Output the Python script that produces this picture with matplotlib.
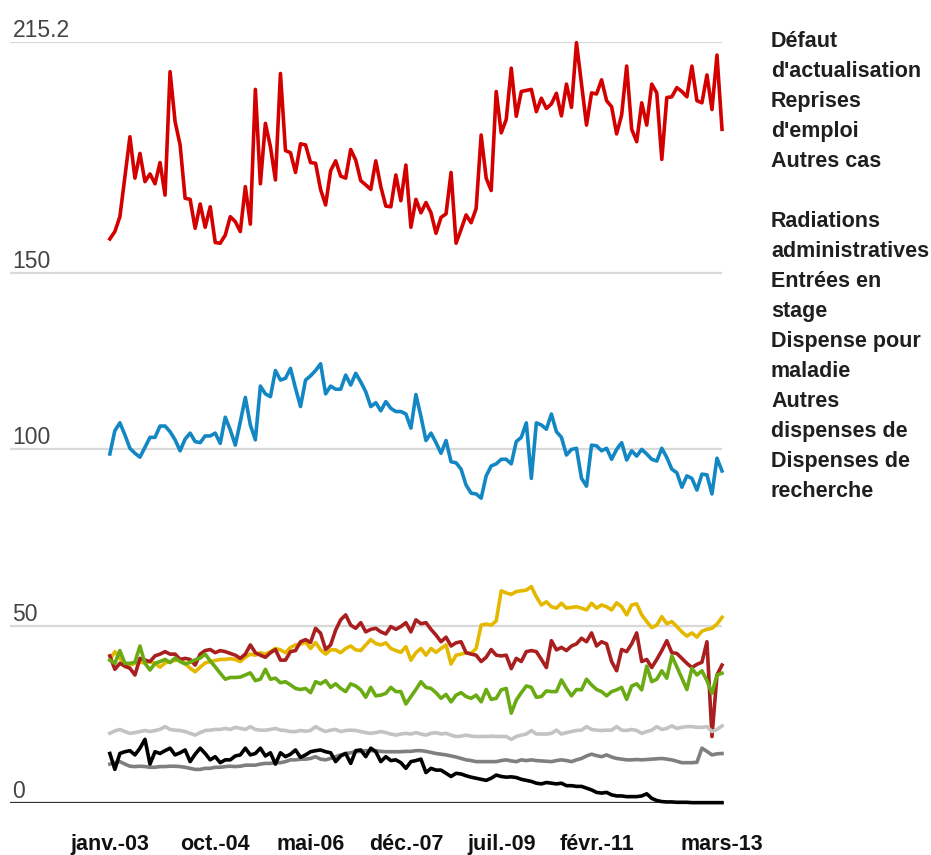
import matplotlib
matplotlib.use("Agg")
import matplotlib.pyplot as plt
from matplotlib import font_manager
from matplotlib.transforms import offset_copy

# monthly series, janv. 2003 -> mars 2013 (thousands)
defaut_actualisation = [
    159.5, 161.6, 165.8, 177.1, 188.4, 176.7, 183.7, 175.7, 177.9, 175.1, 181.1, 171.9,
    206.8, 192.7, 186.1, 171.0, 170.7, 162.5, 169.4, 162.8, 168.6, 158.5, 158.3, 160.6,
    165.8, 164.4, 161.6, 174.3, 163.7, 201.8, 175.1, 192.2, 185.6, 176.2, 206.3, 184.5,
    183.9, 178.3, 186.4, 186.1, 181.1, 180.9, 173.5, 169.1, 178.8, 181.6, 177.3, 176.7,
    184.8, 181.8, 176.0, 174.8, 173.5, 181.6, 174.3, 168.8, 168.6, 177.6, 170.3, 180.4,
    162.8, 170.7, 166.9, 169.8, 166.9, 161.1, 165.6, 166.6, 178.3, 158.3, 162.2, 166.3,
    164.1, 168.1, 188.9, 176.7, 173.2, 201.2, 189.5, 193.3, 207.8, 194.2, 201.2, 201.5,
    201.8, 195.5, 199.3, 196.4, 197.7, 200.7, 194.3, 203.3, 196.7, 215.0, 203.3, 191.7,
    200.8, 200.5, 204.5, 198.6, 196.9, 189.2, 194.6, 208.4, 190.5, 187.0, 198.0, 191.7,
    203.3, 200.8, 182.0, 199.5, 199.7, 202.3, 201.2, 199.7, 208.4, 198.6, 198.0, 205.9,
    196.1, 211.5, 190.5]
reprises_emploi = [
    98.7, 105.3, 107.5, 104.1, 100.3, 98.9, 97.8, 100.6, 103.4, 103.4, 106.6, 106.6,
    105.0, 102.7, 99.6, 102.9, 104.6, 102.2, 101.9, 103.8, 103.8, 104.6, 101.7, 109.1,
    105.5, 101.2, 107.8, 114.7, 106.9, 102.7, 117.9, 115.7, 114.9, 122.3, 119.6, 120.1,
    122.9, 117.3, 112.1, 119.6, 120.8, 122.3, 124.2, 115.7, 117.9, 117.0, 117.0, 121.0,
    118.2, 121.5, 119.1, 116.3, 112.1, 113.2, 110.9, 113.5, 111.6, 110.7, 110.7, 110.0,
    106.0, 115.5, 109.3, 102.5, 104.6, 101.9, 98.9, 102.5, 96.5, 96.2, 94.4, 89.9,
    87.6, 87.4, 86.2, 92.5, 95.3, 95.9, 97.2, 97.2, 95.9, 102.2, 103.4, 107.5,
    91.8, 107.5, 106.9, 105.7, 110.0, 105.0, 103.4, 98.4, 100.0, 100.3, 91.8, 89.6,
    101.2, 101.0, 99.6, 100.3, 97.2, 100.0, 101.9, 97.0, 99.6, 98.1, 100.0, 98.7,
    97.2, 96.7, 100.3, 97.7, 94.4, 93.4, 89.3, 92.5, 91.8, 88.5, 93.0, 92.8,
    87.4, 97.5, 93.9]
autres_cas = [
    40.5, 42.8, 41.0, 38.5, 39.0, 39.5, 39.8, 39.6, 40.0, 39.5, 38.4, 39.6,
    40.0, 40.3, 40.6, 39.5, 38.1, 37.1, 38.4, 39.6, 40.0, 40.3, 40.6, 40.6,
    40.8, 40.6, 40.0, 41.2, 42.1, 41.8, 42.5, 42.1, 42.8, 43.7, 43.3, 42.5,
    44.0, 44.7, 44.9, 45.5, 43.7, 45.4, 43.3, 42.1, 43.3, 43.3, 42.5, 43.7,
    44.4, 43.3, 43.1, 44.7, 46.2, 45.1, 44.7, 45.3, 43.7, 43.1, 42.6, 44.2,
    40.4, 42.5, 43.7, 41.8, 43.7, 42.6, 43.7, 44.7, 39.3, 41.8, 42.1, 42.5,
    42.3, 43.7, 50.3, 50.6, 50.3, 51.5, 60.0, 59.4, 59.0, 59.8, 60.0, 60.2,
    61.2, 58.3, 56.0, 56.9, 55.5, 55.1, 56.5, 55.1, 55.3, 55.5, 55.1, 54.6,
    56.5, 55.1, 56.0, 55.5, 54.6, 56.6, 55.5, 53.2, 56.0, 56.3, 53.2, 51.3,
    49.6, 50.3, 52.7, 50.7, 51.3, 49.9, 48.4, 47.2, 48.1, 46.9, 48.6, 49.1,
    49.4, 50.6, 52.5]
radiations_admin = [
    41.6, 37.8, 39.5, 38.7, 38.1, 36.2, 40.9, 40.4, 40.0, 41.6, 42.1, 42.8,
    42.1, 42.1, 40.6, 40.9, 40.6, 39.0, 42.1, 43.1, 43.4, 42.5, 43.1, 42.8,
    42.3, 41.8, 40.9, 42.1, 44.7, 42.5, 41.8, 41.2, 42.5, 43.4, 40.4, 40.4,
    42.8, 43.1, 45.6, 46.2, 45.4, 49.4, 48.0, 43.4, 44.7, 48.9, 51.8, 53.2,
    50.3, 49.4, 51.0, 48.4, 49.1, 49.4, 48.4, 47.8, 49.9, 49.1, 49.9, 51.0,
    48.4, 51.8, 50.7, 51.0, 49.1, 47.5, 45.6, 46.9, 44.4, 45.3, 45.6, 42.5,
    42.1, 41.8, 40.0, 41.2, 43.4, 41.8, 41.6, 41.8, 38.0, 40.9, 40.0, 42.8,
    43.1, 42.8, 40.6, 38.3, 45.9, 43.3, 44.0, 43.1, 44.4, 45.0, 46.6, 45.6,
    48.1, 44.4, 45.6, 45.0, 40.0, 37.4, 43.4, 42.8, 45.0, 48.1, 40.0, 40.6,
    38.3, 40.6, 43.1, 45.9, 42.5, 42.3, 40.9, 39.5, 38.3, 39.2, 39.8, 45.6,
    18.8, 36.2, 39.0]
entrees_stage = [
    40.4, 39.5, 43.1, 39.5, 39.5, 39.8, 44.4, 39.5, 37.6, 39.5, 40.0, 40.6,
    39.7, 41.0, 40.0, 39.3, 39.8, 40.5, 41.0, 42.1, 40.2, 38.5, 36.7, 35.0,
    35.5, 35.5, 35.6, 36.2, 36.8, 34.6, 35.0, 37.8, 35.0, 35.3, 34.0, 34.3,
    33.4, 32.4, 32.1, 32.4, 31.2, 34.3, 33.7, 34.6, 32.7, 33.7, 32.4, 31.5,
    33.7, 33.1, 32.0, 29.9, 32.7, 30.3, 30.5, 31.0, 32.7, 31.5, 31.5, 28.0,
    30.1, 32.1, 34.3, 32.7, 32.4, 31.2, 29.6, 30.7, 28.6, 30.5, 31.2, 30.1,
    29.6, 30.5, 28.6, 32.1, 29.3, 29.6, 32.0, 32.4, 25.4, 29.1, 31.2, 33.1,
    32.7, 29.9, 30.1, 31.7, 31.5, 31.5, 34.8, 32.4, 30.3, 32.1, 32.0, 35.0,
    33.4, 32.1, 31.5, 30.3, 31.5, 32.0, 32.7, 29.3, 33.1, 33.7, 32.0, 38.7,
    34.3, 35.0, 37.4, 35.3, 41.6, 38.5, 35.3, 32.1, 38.1, 36.2, 37.4, 34.6,
    31.0, 36.2, 36.7]
dispense_maladie = [
    19.7, 20.4, 20.8, 20.2, 19.7, 19.9, 20.2, 20.5, 20.2, 20.5, 20.8, 21.6,
    20.8, 20.6, 20.5, 20.2, 19.7, 19.2, 19.9, 20.5, 20.6, 20.8, 20.8, 21.1,
    20.8, 21.4, 21.1, 20.8, 21.6, 20.8, 20.6, 20.6, 20.8, 21.1, 20.6, 20.5,
    20.2, 20.2, 20.5, 20.3, 20.5, 21.6, 20.8, 20.2, 20.6, 20.8, 20.2, 20.5,
    20.6, 20.5, 20.2, 19.9, 19.7, 19.9, 20.2, 19.9, 19.5, 19.2, 19.5, 19.7,
    19.5, 19.9, 19.5, 19.2, 19.7, 19.9, 19.5, 19.7, 19.2, 18.8, 18.9, 19.2,
    18.9, 18.8, 18.8, 18.8, 18.9, 18.8, 18.8, 18.8, 18.0, 18.8, 19.2, 19.5,
    20.5, 19.5, 19.5, 19.5, 19.7, 20.6, 19.5, 19.9, 20.2, 20.5, 20.6, 21.6,
    20.8, 20.6, 20.5, 20.6, 20.6, 21.6, 20.6, 20.5, 20.8, 20.5, 19.7, 20.2,
    20.6, 21.6, 20.8, 21.1, 21.8, 21.1, 21.4, 21.6, 21.6, 21.4, 21.4, 21.6,
    20.2, 20.8, 21.8]
autres_dispenses = [
    11.0, 11.4, 11.7, 11.0, 10.4, 10.3, 10.4, 10.3, 10.1, 10.1, 10.3, 10.3,
    10.4, 10.4, 10.3, 10.1, 9.8, 9.5, 9.5, 9.8, 9.8, 10.1, 10.1, 10.3,
    10.4, 10.3, 10.4, 10.7, 10.7, 10.7, 11.0, 11.2, 11.2, 11.4, 11.4, 11.7,
    12.2, 12.2, 12.4, 12.4, 12.6, 13.1, 12.4, 12.2, 12.6, 13.1, 13.6, 14.0,
    14.2, 14.5, 14.6, 14.8, 14.8, 14.8, 14.6, 14.5, 14.5, 14.5, 14.5, 14.6,
    14.6, 14.8, 14.8, 14.6, 14.3, 14.0, 13.8, 13.6, 13.3, 13.0, 12.6, 12.2,
    12.0, 11.7, 11.7, 11.7, 11.7, 11.7, 12.0, 12.2, 11.9, 11.7, 12.2, 12.0,
    12.2, 12.0, 11.9, 11.8, 11.7, 12.0, 12.2, 12.0, 11.7, 12.2, 12.6, 13.3,
    13.8, 13.4, 13.1, 13.6, 13.0, 12.6, 12.4, 12.2, 12.2, 12.3, 12.2, 12.3,
    12.4, 12.5, 12.6, 12.4, 12.2, 11.8, 11.4, 11.4, 11.4, 11.5, 15.5, 14.6,
    13.6, 13.9, 14.0]
dispenses_recherche = [
    14.0, 9.5, 14.0, 14.5, 14.8, 13.6, 15.5, 18.0, 11.0, 14.5, 14.0, 14.8,
    15.5, 13.6, 14.2, 15.0, 11.7, 13.8, 15.5, 14.0, 12.2, 13.1, 11.4, 12.2,
    12.2, 13.3, 13.6, 15.5, 13.6, 14.0, 15.5, 13.3, 14.2, 11.0, 14.2, 13.1,
    13.8, 15.0, 12.9, 13.6, 14.5, 14.8, 15.0, 14.5, 14.2, 11.7, 13.3, 14.0,
    11.2, 14.8, 15.0, 13.1, 15.5, 14.5, 11.7, 13.1, 12.0, 12.2, 11.4, 9.8,
    11.7, 12.0, 12.4, 8.6, 9.8, 9.3, 9.3, 8.4, 7.5, 8.4, 8.2, 7.7,
    7.3, 7.0, 6.7, 6.4, 7.0, 7.9, 7.5, 7.3, 7.4, 7.2, 6.7, 6.4,
    6.1, 5.6, 5.4, 5.8, 5.6, 5.4, 5.6, 4.9, 4.9, 4.7, 4.7, 4.2,
    3.7, 3.0, 2.8, 3.0, 2.3, 2.0, 2.0, 1.8, 1.8, 1.8, 2.0, 2.6,
    1.3, 0.7, 0.4, 0.3, 0.3, 0.2, 0.2, 0.2, 0.1, 0.1, 0.1, 0.1,
    0.1, 0.1, 0.1]

series = [defaut_actualisation, reprises_emploi, autres_cas, radiations_admin,
          entrees_stage, dispense_maladie, autres_dispenses, dispenses_recherche]
colors = ['#d40000', '#1287c4', '#e5b800', '#a91f1f', '#6aab14', '#c3c3c3', '#7f7f7f', '#000000']

# legend lines as shown (wrapped labels)
legend_lines = ["Défaut", "d'actualisation", "Reprises", "d'emploi", "Autres cas", "",
                "Radiations", "administratives", "Entrées en", "stage",
                "Dispense pour", "maladie", "Autres", "dispenses de",
                "Dispenses de", "recherche"]

xtick_pos = [0, 21, 40, 59, 78, 97, 122]
xtick_labels = ['janv.-03', 'oct.-04', 'mai-06', 'déc.-07', 'juil.-09', 'févr.-11', 'mars-13']
ytick_vals = [0, 50, 100, 150, 215.2]
ytick_labels = ['0', '50', '100', '150', '215.2']

installed = {f.name for f in font_manager.fontManager.ttflist}
if 'Liberation Sans Narrow' in installed:
    xfont, xsize = 'Liberation Sans Narrow', 19
else:
    xfont, xsize = 'Liberation Sans', 15.5

W, H = 931, 855
fig = plt.figure(figsize=(W / 100, H / 100), dpi=100)
ax = fig.add_axes([10 / W, 52 / H, 712 / W, 761 / H])

months = list(range(len(defaut_actualisation)))
for s, c in zip(series, colors):
    ax.plot(months, s, color=c, lw=2.6, solid_joinstyle='round', clip_on=False, zorder=3)

ax.set_xlim(-19.9, 122)
ax.set_ylim(0, 215.2)
ax.set_yticks(ytick_vals)
ax.yaxis.grid(True, color='#d9d9d9', lw=1.6)
ax.set_axisbelow(True)
ax.tick_params(axis='y', length=0, labelleft=False)
ax.axhline(0, color='#333333', lw=1.6, zorder=2)

ax.set_xticks(xtick_pos)
ax.set_xticklabels(xtick_labels, fontfamily=xfont, fontweight='bold', fontsize=xsize, color='#111111')
ax.tick_params(axis='x', length=0, pad=22)

for sp in ax.spines.values():
    sp.set_visible(False)

# value labels sit just above their gridline, at the left edge
trans = offset_copy(ax.transData, fig=fig, x=0, y=5, units='dots')
for v, lab in zip(ytick_vals, ytick_labels):
    ax.text(-19.4, v, lab, transform=trans, ha='left', va='baseline',
            fontsize=16.5, color='#444444', fontfamily='Liberation Sans')

for k, line in enumerate(legend_lines):
    fig.text(771 / W, 1 - (47 + 30 * k) / H, line, ha='left', va='baseline',
             fontsize=15.5, fontweight='bold', color='#1f1f1f', fontfamily='Liberation Sans')

fig.savefig('out.png', dpi=100)
